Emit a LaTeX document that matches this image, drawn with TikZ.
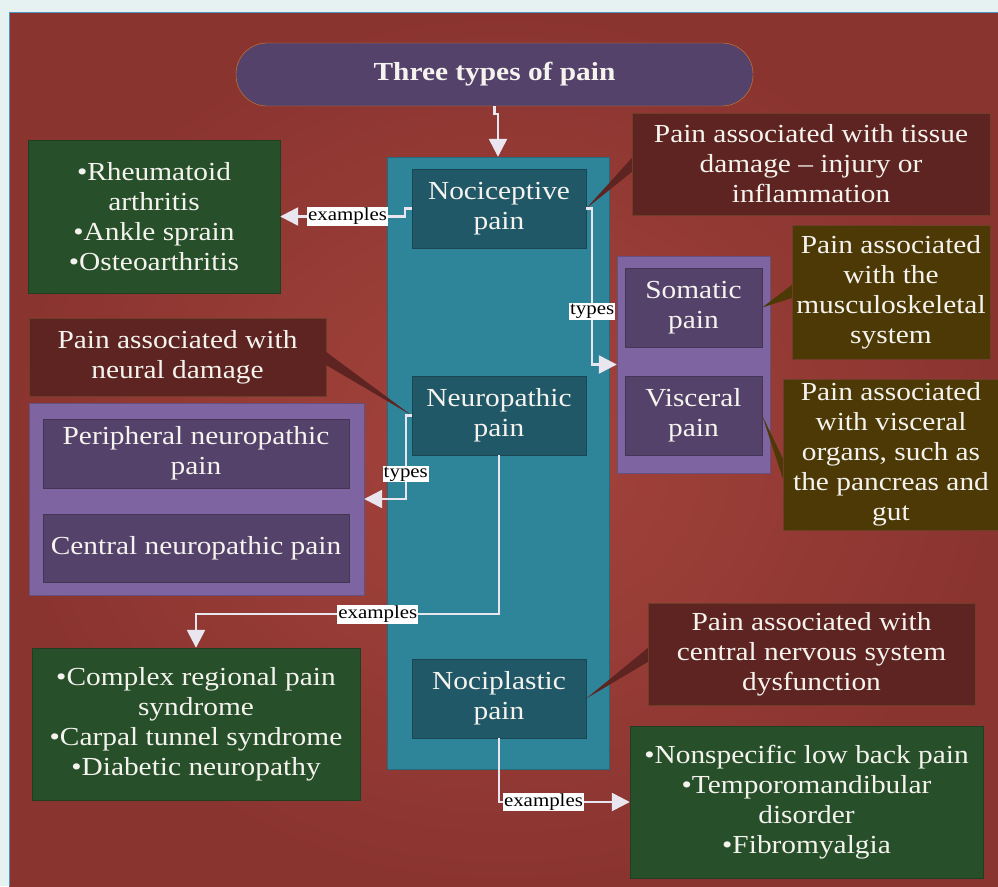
\documentclass[tikz,border=0pt]{standalone}
\usepackage{fontspec}
\setmainfont{Liberation Serif}[FakeStretch=1.13]
\usepackage{xcolor}
\usepackage{tikz}
\usetikzlibrary{positioning, arrows.meta, calc}
\definecolor{pagegrey}{HTML}{E6F1F1}
\definecolor{bgredlight}{HTML}{A5443C}
\definecolor{bgreddark}{HTML}{8A3430}
\definecolor{edgeblue}{HTML}{4F94C4}
\definecolor{painpurple}{HTML}{55426B}
\definecolor{lightpurple}{HTML}{7E64A0}
\definecolor{painteal}{HTML}{2E8599}
\definecolor{darkteal}{HTML}{215868}
\definecolor{examplegreen}{HTML}{264F2A}
\definecolor{notemaroon}{HTML}{5E2421}
\definecolor{noteolive}{HTML}{4C3906}
\definecolor{noteedge}{HTML}{6E3E28}
\definecolor{arrowwhite}{HTML}{E9E6EF}
\definecolor{textwhite}{HTML}{F5F3EE}
\newcommand{\painfont}{\fontsize{26}{30}\selectfont}

\tikzset{
  box/.style={fill=#1, draw=#1!80!black, text=textwhite, align=center, font=\painfont, inner sep=2pt},
  typebox/.style={box=darkteal, minimum width=174pt, minimum height=79pt},
  subbox/.style={box=painpurple},
  groupbox/.style={fill=#1, draw=#1!80!black},
  notebox/.style={box=#1, draw=noteedge},
  lbl/.style={fill=white, text=black, inner sep=1pt, font=\fontsize{18.5}{19}\selectfont},
  link/.style={draw=arrowwhite, line width=2.5pt, -{Triangle[width=18pt,length=18pt]}}
}

\begin{document}
\begin{tikzpicture}[x=1pt, y=-1pt]
  \useasboundingbox (0,0) rectangle (998,886);
  \fill[pagegrey] (0,0) rectangle (998,886);
  \shade[inner color=bgredlight, outer color=bgreddark] (9,12) rectangle (998,886);
  \draw[edgeblue, line width=1pt] (9,886) -- (9,12) -- (998,12);

  % title and the three kinds
  \node[box=painpurple, draw=orange!40!brown, rounded corners=31pt, minimum width=517pt,
        minimum height=63pt, font=\painfont\bfseries] (title) at (494.5,74.5) {Three types of pain};
  \node[groupbox=painteal, minimum width=222pt, minimum height=612pt] (kinds) at (498,463) {};
  \node[typebox] (noci) at (499,208.5) {Nociceptive\\pain};
  \node[typebox] (neuro) at (499,415.5) {Neuropathic\\pain};
  \node[typebox] (plast) at (499,698.5) {Nociplastic\\pain};

  % subtypes
  \node[groupbox=lightpurple, minimum width=153pt, minimum height=217pt] (somgroup) at (693.5,364.5) {};
  \node[subbox, minimum width=137pt, minimum height=79pt] (soma) at (693.5,307.5) {Somatic\\pain};
  \node[subbox, minimum width=137pt, minimum height=79pt] (visc) at (693.5,415.5) {Visceral\\pain};
  \node[groupbox=lightpurple, minimum width=335pt, minimum height=192pt] (periphgroup) at (196.5,499) {};
  \node[subbox, minimum width=306pt, minimum height=69pt] (periph) at (196,453.5) {Peripheral neuropathic\\pain};
  \node[subbox, minimum width=306pt, minimum height=68pt] (central) at (196,548) {Central neuropathic pain};

  % examples
  \node[box=examplegreen, minimum width=252pt, minimum height=153pt] (exnoci) at (154,216.5)
    {•Rheumatoid\\arthritis\\•Ankle sprain\\•Osteoarthritis};
  \node[box=examplegreen, minimum width=328pt, minimum height=152pt] (exneuro) at (196,724)
    {•Complex regional pain\\syndrome\\•Carpal tunnel syndrome\\•Diabetic neuropathy};
  \node[box=examplegreen, minimum width=353pt, minimum height=152pt] (explast) at (806.5,802)
    {•Nonspecific low back pain\\•Temporomandibular\\disorder\\•Fibromyalgia};

  % notes
  \node[notebox=notemaroon, minimum width=358pt, minimum height=102pt] (notenoci) at (811,164)
    {Pain associated with tissue\\damage – injury or\\inflammation};
  \node[notebox=noteolive, minimum width=198pt, minimum height=134pt] (notesoma) at (891,292)
    {Pain associated\\with the\\musculoskeletal\\system};
  \node[notebox=noteolive, minimum width=216pt, minimum height=151pt] (notevisc) at (891,454.5)
    {Pain associated\\with visceral\\organs, such as\\the pancreas and\\gut};
  \node[notebox=notemaroon, minimum width=297pt, minimum height=78pt] (noteneuro) at (177.5,357)
    {Pain associated with\\neural damage};
  \node[notebox=notemaroon, minimum width=327pt, minimum height=102pt] (noteplast) at (811.5,654)
    {Pain associated with\\central nervous system\\dysfunction};

  \fill[notemaroon] (noci.east) -- ($(notenoci.west)+(0,-6)$) -- ($(notenoci.west)+(0,8)$) -- cycle;
  \fill[noteolive] (soma.east) -- ($(notesoma.west)+(0,-7)$) -- ($(notesoma.west)+(0,6)$) -- cycle;
  \fill[noteolive] (visc.east) -- ($(notevisc.west)+(0,4)$) -- ($(notevisc.west)+(0,24)$) -- cycle;
  \fill[notemaroon] (neuro.west) -- ($(noteneuro.east)+(0,-5)$) -- ($(noteneuro.east)+(0,8)$) -- cycle;
  \fill[notemaroon] (plast.east) -- ($(noteplast.west)+(0,-6)$) -- ($(noteplast.west)+(0,8)$) -- cycle;

  % connectors
  \draw[link] (title.south) -- ++(0,8) -| (kinds.north);
  \draw[link] (noci.west) -- ++(-7,0) |- node[lbl, pos=0.73] {examples} (exnoci.east);
  \draw[link] (noci.east) -- ++(6,0) |- node[lbl, pos=0.33] {types} (somgroup.west);
  \draw[link] (neuro.west) -- ++(-6,0) |- node[lbl, pos=0.35] {types} (periphgroup.east);
  \draw[link] (neuro.south) -- ++(0,159) -| node[lbl, pos=0.2] {examples} (exneuro.north);
  \draw[link] (plast.south) |- node[lbl, pos=0.67] {examples} (explast.west);
\end{tikzpicture}
\end{document}
